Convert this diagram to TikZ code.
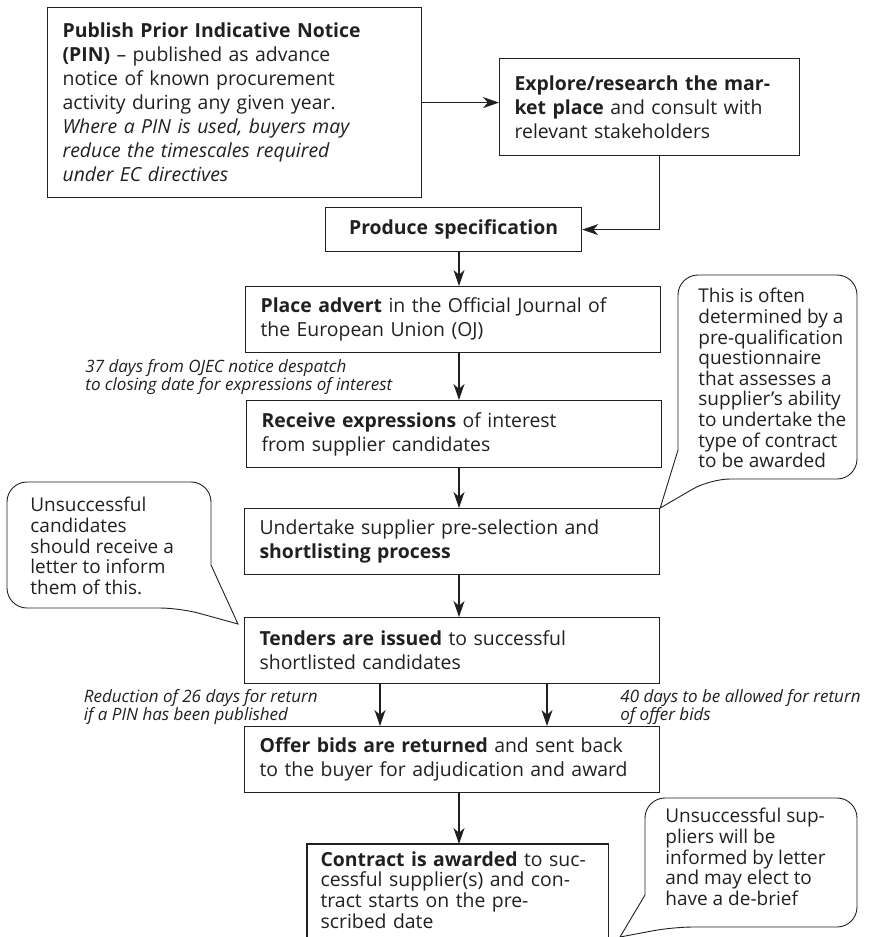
\documentclass[tikz,border=0pt]{standalone}
\usepackage{fontspec}
\setmainfont{Open Sans}
\usetikzlibrary{arrows.meta,positioning,calc}
\definecolor{ink}{HTML}{231F20}
\tikzset{
  stepbox/.style={draw=ink, line width=0.6pt, anchor=north west, align=left,
                  inner xsep=7.5pt, inner ysep=0pt, text=ink,
                  font=\fontsize{9.7}{12}\selectfont},
  flow/.style={-{Stealth[length=8pt,width=5.5pt,inset=2.4pt]}, line width=0.55pt, draw=ink},
  bubble/.style={draw=ink, line width=0.45pt},
  bubbletext/.style={anchor=north west, align=left, inner sep=0pt, text=ink,
                     font=\fontsize{9.5}{10.3}\selectfont},
  timing/.style={align=left, inner sep=0pt, text=ink,
                 font=\fontsize{8.5}{9.1}\selectfont\itshape}
}
\begin{document}
\begin{tikzpicture}[x=0.5pt,y=-0.5pt]
  \clip (0,0) rectangle (873,937);
  % main steps
  \node[stepbox, minimum width=187pt, minimum height=95pt, text width=172pt] (pin) at (47,7)
    {\textbf{Publish Prior Indicative Notice}\\
     \textbf{(PIN)} -- published as advance\\
     notice of known procurement\\
     activity during any given year.\\
     \textit{Where a PIN is used, buyers may}\\
     \textit{reduce the timescales required}\\
     \textit{under EC directives}};
  \node[stepbox, minimum width=150pt, minimum height=48.5pt, text width=135pt] (explore) at (499,58)
    {\textbf{Explore/research the mar-}\\
     \textbf{ket place} and consult with\\
     relevant stakeholders};
  \node[stepbox, align=center, minimum width=128pt, minimum height=22pt, text width=113pt] (spec) at (325,207)
    {\textbf{Produce specification}};
  \node[stepbox, minimum width=207.5pt, minimum height=33pt, text width=192.5pt] (advert) at (245,286)
    {\textbf{Place advert} in the Official Journal of\\the European Union (OJ)};
  \node[stepbox, minimum width=207.5pt, minimum height=33.5pt, text width=192.5pt] (receive) at (246,400)
    {\textbf{Receive expressions} of interest\\from supplier candidates};
  \node[stepbox, minimum width=207.5pt, minimum height=33pt, text width=192.5pt] (shortlist) at (244,508)
    {Undertake supplier pre-selection and\\\textbf{shortlisting process}};
  \node[stepbox, minimum width=207.5pt, minimum height=33pt, text width=192.5pt] (tenders) at (244,617)
    {\textbf{Tenders are issued} to successful\\shortlisted candidates};
  \node[stepbox, minimum width=207.5pt, minimum height=33pt, text width=192.5pt] (offer) at (244,726)
    {\textbf{Offer bids are returned} and sent back\\to the buyer for adjudication and award};
  \node[stepbox, draw=none, inner xsep=6.5pt, inner ysep=3.5pt, minimum width=150pt, text width=137pt,
        font=\fontsize{9.7}{10.3}\selectfont] (contract) at (307,844)
    {\textbf{Contract is awarded} to suc-\\
     cessful supplier(s) and con-\\
     tract starts on the pre-\\
     scribed date};
  \draw[draw=ink, line width=0.6pt] (contract.north west) ++(0,140) -- (contract.north west)
    -- (contract.north east) -- ++(0,140);

  % arrow columns
  \coordinate (col) at (459,0);
  \coordinate (colL) at (380,0);
  \coordinate (colR) at (547,0);

  \draw[flow] (pin.east) -- (pin.east -| explore.west);
  \draw[flow] ([xshift=5pt]explore.south) |- (spec.east);
  \draw[flow] (spec.south -| col) -- (advert.north -| col);
  \draw[flow] (advert.south -| col) -- (receive.north -| col);
  \draw[flow] (receive.south -| col) -- (shortlist.north -| col);
  \draw[flow] (shortlist.south -| col) -- (tenders.north -| col);
  \draw[flow] (tenders.south -| colL) -- (offer.north -| colL);
  \draw[flow] (tenders.south -| colR) -- (offer.north -| colR);
  \draw[flow] (offer.south -| col) -- (contract.north -| col);

  % timings
  \node[timing, anchor=north west] (t37) at (85,359)
    {37 days from OJEC notice despatch\\to closing date for expressions of interest};
  \node[timing, anchor=north east] (t26) at (318,689)
    {Reduction of 26 days for return\\if a PIN has been published};
  \node[timing, anchor=north west] (t40) at (620,689)
    {40 days to be allowed for return\\of offer bids};

  % callouts
  \coordinate (tipA) at (shortlist.north east);
  \coordinate (tipB) at (238,624);
  \coordinate (tipC) at (620,937);
  \draw[bubble] (678,450) [rounded corners=10pt] -- (678,275) -- (857,275) -- (857,479)
    -- (710,479) [sharp corners] -- (tipA) -- cycle;
  \draw[bubble] (211,565) [rounded corners=10pt] -- (211,482) -- (7,482) -- (7,608)
    -- (180,608) [sharp corners] -- (tipB) -- cycle;
  \draw[bubble] (645,895) [rounded corners=10pt] -- (645,798) -- (857,798) -- (857,927)
    -- (673,927) [sharp corners] -- (tipC) -- cycle;
  \node[bubbletext] (noteA) at (698,288)
    {This is often\\determined by a\\pre-qualification\\questionnaire\\that assesses a\\supplier's ability\\to undertake the\\type of contract\\to be awarded};
  \node[bubbletext] (noteB) at (30,497)
    {Unsuccessful\\candidates\\should receive a\\letter to inform\\them of this.};
  \node[bubbletext] (noteC) at (665,808)
    {Unsuccessful sup-\\pliers will be\\informed by letter\\and may elect to\\have a de-brief};
\end{tikzpicture}
\end{document}
